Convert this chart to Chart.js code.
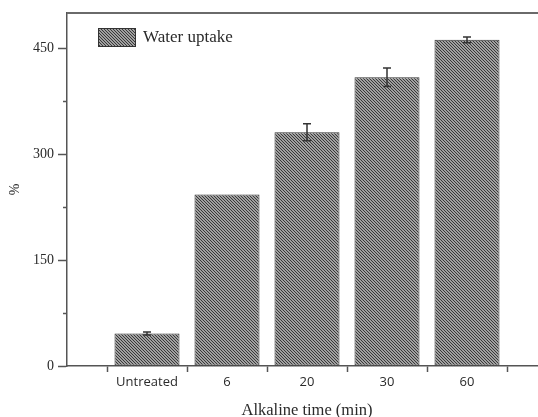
<!DOCTYPE html>
<html lang="en">
<head>
    <meta charset="UTF-8">
    <title>Water uptake</title>
    <script src="https://cdn.jsdelivr.net/npm/chart.js"></script>
    <style>
        html, body { margin: 0; padding: 0; overflow: hidden; background: #fff; }
        #wrap { width: 560px; height: 421px; position: relative; }
    </style>
</head>
<body>
    <div id="wrap"><canvas id="chart1"></canvas></div>

    <script>
        // blank slots at both ends leave half a gap either side of the bars
        const labels = ['', 'Untreated', '6', '20', '30', '60', ''];
        const uptake = [null, 46, 243, 331, 409, 462, null];
        const uptakeErr = [0, 2, 0, 12, 13, 4, 0];
        const yTicks = [0, 150, 300, 450];

        const axisColor = '#555';
        const textColor = '#2a2a2a';

        // dense "\" hatch, dark line every 3px on mid grey
        function makeHatch() {
            const c = document.createElement('canvas');
            c.width = 3; c.height = 3;
            const g = c.getContext('2d');
            g.fillStyle = '#a0a0a0';
            g.fillRect(0, 0, 3, 3);
            g.fillStyle = '#383838';
            for (let i = 0; i < 3; i++) g.fillRect(i, i, 1, 1);
            return g.createPattern(c, 'repeat');
        }
        const hatch = makeHatch();

        const errorBars = {
            id: 'errorBars',
            afterDatasetsDraw(chart) {
                const ctx = chart.ctx;
                const meta = chart.getDatasetMeta(0);
                const y = chart.scales.y;
                ctx.save();
                ctx.strokeStyle = '#333';
                ctx.lineWidth = 1.5;
                meta.data.forEach((bar, i) => {
                    const v = uptake[i], e = uptakeErr[i];
                    if (v == null || !e) return;
                    const top = y.getPixelForValue(v + e);
                    const bot = y.getPixelForValue(v - e);
                    ctx.beginPath();
                    ctx.moveTo(bar.x, top); ctx.lineTo(bar.x, bot);
                    ctx.moveTo(bar.x - 4, top); ctx.lineTo(bar.x + 4, top);
                    ctx.moveTo(bar.x - 4, bot); ctx.lineTo(bar.x + 4, bot);
                    ctx.stroke();
                });
                ctx.restore();
            }
        };

        // top frame line and the legend sitting inside the plot
        const frame = {
            id: 'frame',
            afterDraw(chart) {
                const ctx = chart.ctx;
                const a = chart.chartArea;
                ctx.save();
                ctx.strokeStyle = '#6a6a6a';
                ctx.lineWidth = 2;
                ctx.beginPath();
                ctx.moveTo(a.left, a.top);
                ctx.lineTo(a.right, a.top);
                ctx.stroke();

                const lx = a.left + 31, ly = a.top + 15;
                ctx.fillStyle = hatch;
                ctx.fillRect(lx, ly, 38, 19);
                ctx.strokeStyle = '#333';
                ctx.lineWidth = 1;
                ctx.strokeRect(lx + 0.5, ly + 0.5, 37, 18);
                ctx.fillStyle = textColor;
                ctx.font = '17px "Liberation Serif", serif';
                ctx.textBaseline = 'middle';
                ctx.fillText('Water uptake', lx + 45, ly + 10);
                ctx.restore();
            }
        };

        new Chart(document.getElementById('chart1'), {
            type: 'bar',
            data: {
                labels: labels,
                datasets: [{
                    label: 'Water uptake',
                    data: uptake,
                    backgroundColor: hatch,
                    borderColor: '#333',
                    borderWidth: 1,
                    borderSkipped: false,
                    categoryPercentage: 1,
                    barPercentage: 0.8125
                }]
            },
            options: {
                responsive: true,
                maintainAspectRatio: false,
                animation: false,
                layout: { padding: { left: 0, right: 13, top: 13, bottom: 0 } },
                plugins: {
                    legend: { display: false },
                    tooltip: { enabled: false }
                },
                scales: {
                    x: {
                        offset: false,
                        grid: {
                            offset: true,
                            drawOnChartArea: false,
                            tickLength: 6,
                            tickColor: axisColor,
                            tickWidth: 1.5
                        },
                        border: { color: axisColor, width: 1.5 },
                        ticks: {
                            padding: 2,
                            color: textColor,
                            font: { family: '"Open Sans", sans-serif', size: 13 },
                            maxRotation: 0,
                            autoSkip: false
                        },
                        title: {
                            display: true,
                            text: 'Alkaline time (min)',
                            color: textColor,
                            font: { family: '"Liberation Serif", serif', size: 16.5 },
                            padding: 0
                        },
                        afterFit(scale) { scale.height = 55; }
                    },
                    y: {
                        min: 0,
                        max: 500,
                        grid: {
                            drawOnChartArea: false,
                            tickLength: 9,
                            tickColor: axisColor,
                            tickWidth: 1.5,
                            tickBorderDash: c => (c.tick && yTicks.includes(c.tick.value)) ? [] : [0, 5, 4, 20]
                        },
                        border: { color: axisColor, width: 1.5 },
                        ticks: {
                            stepSize: 75,
                            includeBounds: false,
                            padding: 4,
                            color: textColor,
                            font: { family: '"Liberation Serif", serif', size: 14 },
                            callback: v => yTicks.includes(v) ? String(v) : ''
                        },
                        title: {
                            display: true,
                            text: '%',
                            color: textColor,
                            font: { family: '"Liberation Serif", serif', size: 14 },
                            padding: 7
                        },
                        afterFit(scale) { scale.width = 67; }
                    }
                }
            },
            plugins: [errorBars, frame]
        });
    </script>
</body>
</html>
